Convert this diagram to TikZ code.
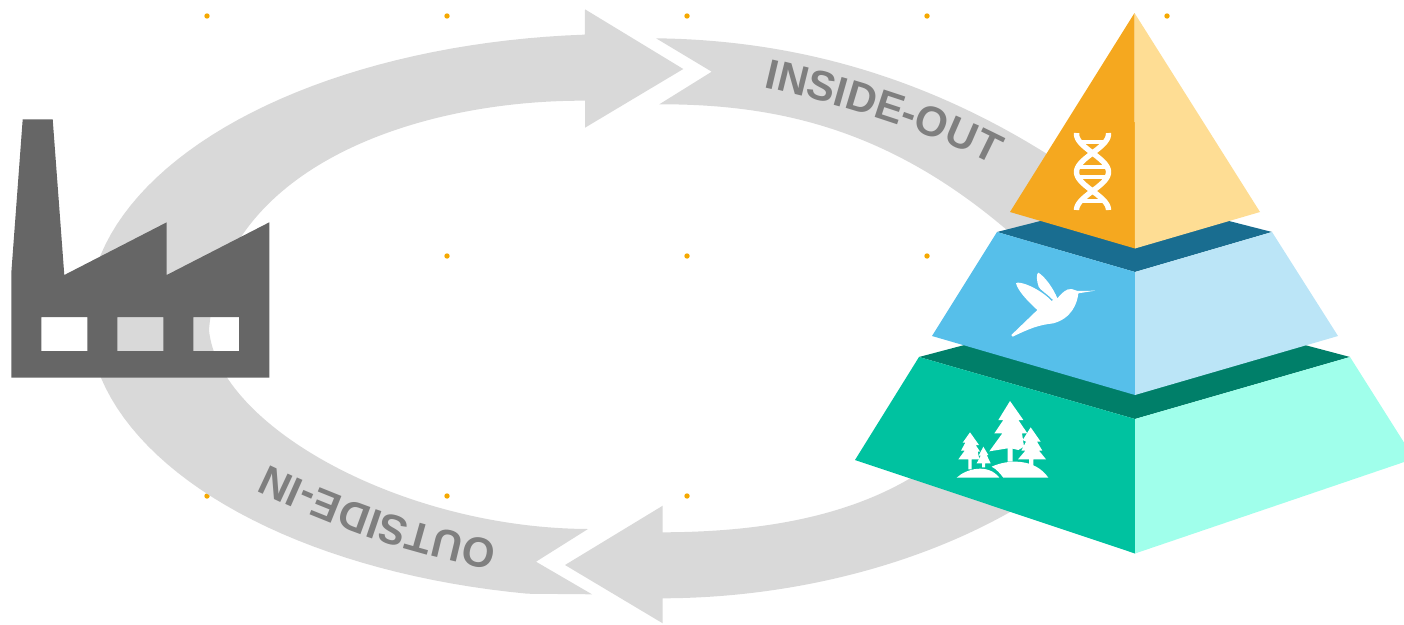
\documentclass[tikz,border=0pt]{standalone}
\usepackage{fontspec}
\setmainfont{Liberation Sans}
\usetikzlibrary{decorations.text}
\newcommand{\ringfont}{\bfseries\fontsize{42}{48}\selectfont\color{labelgray}}
\definecolor{labelgray}{HTML}{7F7F7F}
\definecolor{ringgray}{HTML}{D9D9D9}
\definecolor{factorygray}{HTML}{666666}
\definecolor{dotorange}{HTML}{F5A800}
\definecolor{topL}{HTML}{F5A81F}
\definecolor{topR}{HTML}{FEDD94}
\definecolor{midL}{HTML}{56BFEA}
\definecolor{midR}{HTML}{BBE5F7}
\definecolor{midD}{HTML}{196D90}
\definecolor{lowL}{HTML}{00C2A0}
\definecolor{lowR}{HTML}{A0FFEB}
\definecolor{lowD}{HTML}{007F69}
\tikzset{
  griddot/.style={fill=dotorange},
  ring/.style={fill=ringgray},
  iconwhite/.style={fill=white},
  ringlabel/.style={decorate},
}
\begin{document}
\begin{tikzpicture}[x=1pt,y=-1pt]
\useasboundingbox (0,0) rectangle (1404,624);
\clip (0,0) rectangle (1404,624);
% grid dots
\foreach \p in {(207,16),(447,16),(687,16),(927,16),(1167,16),(447,256),(687,256),(927,256),(207,496),(447,496),(687,496)}
  \fill[griddot] \p circle (2.7);
% ring, left part with upper arrow head
\fill[ring] (585,9.3) -- (683.3,69) -- (585,127.7) -- (585,100.7)
  .. controls (420,100) and (222,165) .. (209,330)
  .. controls (218,425) and (400,528) .. (588,529)
  -- (536,561.7) -- (592,594.3)
  -- plot[domain=100:266.2,samples=80] ({620+532*cos(\x)},{316+282*sin(\x)})
  -- cycle;
% ring, top right part
\fill[ring] (656,38.3)
  .. controls (800,40) and (950,80) .. (1100,190)
  -- (1040,260)
  .. controls (910,135) and (790,104) .. (659.3,104.3)
  -- (711.7,71.7) -- cycle;
% ring, bottom right part with lower arrow head
\fill[ring] (565,565) -- (662.7,505.7) -- (662.7,532.3)
  .. controls (780,532) and (880,510) .. (950,450)
  -- (1060,480)
  .. controls (950,560) and (800,598) .. (662.7,598.3)
  -- (662.7,623.3) -- cycle;
% ring labels
\path[ringlabel,decoration={text along path,text align=center,text={|\ringfont|INSIDE-OUT}}]
  (763.5,87) .. controls (841.5,105) and (926.5,130) .. (993.5,165);
\path[ringlabel,decoration={text along path,text align=center,text={|\ringfont|OUTSIDE-IN}}]
  (498,541) .. controls (421,528) and (341,500) .. (267,464);
% factory
\fill[factorygray,even odd rule] (22.7,119.3) -- (52.7,119.3) -- (64.3,275) -- (166.7,222.3) -- (166.7,275) -- (269.3,222.3) -- (269.3,377.7) -- (11.3,377.7) -- (11.3,273) -- cycle
  (41.3,317) rectangle (87.3,351)
  (117.3,317) rectangle (163.3,351)
  (193.3,317) rectangle (239,351);
% pyramid, lower tier
\fill[lowD] (919,357) -- (1135,300) -- (1350,357) -- (1135,419) -- cycle;
\fill[lowL] (919,357) -- (1135,419) -- (1135,553.5) -- (855,460) -- cycle;
\fill[lowR] (1135,419) -- (1350,357) -- (1410,452) -- (1410,460) -- (1135,553.5) -- cycle;
% pyramid, middle tier
\fill[midD] (997,232) -- (1135,197) -- (1272,232) -- (1135,272) -- cycle;
\fill[midL] (997,232) -- (1135,272) -- (1135,395) -- (932,336) -- cycle;
\fill[midR] (1135,272) -- (1272,232) -- (1338,336) -- (1135,395) -- cycle;
% pyramid, top tier
\fill[topL] (1134.5,13) -- (1135,248.5) -- (1010,212) -- cycle;
\fill[topR] (1134.5,13) -- (1260,212) -- (1135,248.5) -- cycle;
% DNA icon
\draw[white,line width=5.4] plot[domain=133:210,samples=50] ({1092.5+16*cos((\x-172)*360/76)},\x);
\draw[white,line width=5.4] plot[domain=133:210,samples=50] ({1092.5-16*cos((\x-172)*360/76)},\x);
\foreach \yy in {142,201}
  \draw[white,line width=4] (1082,\yy) -- (1103,\yy);
\draw[white,line width=4] (1078,167) -- (1107,167) (1078,177) -- (1107,177);
% hummingbird icon
\begin{scope}[shift={(940,260)},scale=0.33333]
\fill[iconwhite] (465,92) -- (415,100) .. controls (412,130) and (395,175) .. (340,190)
  .. controls (295,195) and (270,205) .. (218,230) -- (214,225) -- (292,150)
  .. controls (265,125) and (235,95) .. (228,70) .. controls (235,60) and (300,85) .. (335,123)
  -- (339,120) .. controls (320,100) and (300,90) .. (296,80) .. controls (290,65) and (288,40) .. (295,38)
  .. controls (315,50) and (340,85) .. (352,115) .. controls (365,100) and (378,85) .. (395,87)
  -- (413,93) -- cycle;
\end{scope}
% trees icon
\begin{scope}[shift={(940,260)},scale=0.33333]
\fill[iconwhite] (210,423) -- (250,480) -- (235,480) -- (262,520) -- (246,520) -- (252,560) -- (235,570) -- (218,566) -- (218,605) -- (203,605) -- (203,565) -- (148,574) -- (187,520) -- (163,520) -- (190,480) -- (175,480) -- cycle;
\fill[iconwhite] (272,502) -- (302,545) -- (291,545) -- (307,572) -- (297,572) -- (318,598) -- (280,598) -- (280,620) -- (267,620) -- (267,598) -- (234,598) -- (256,572) -- (244,572) -- (258,545) -- (248,540) -- cycle;
\fill[iconwhite] (90,517) -- (117,555) -- (107,555) -- (120,575) -- (113,575) -- (118,598) -- (95,598) -- (95,628) -- (85,628) -- (85,598) -- (55,598) -- (74,572) -- (63,572) -- (76,548) -- (68,548) -- cycle;
\fill[iconwhite] (130,560) -- (145,585) -- (140,585) -- (152,610) -- (135,610) -- (135,622) -- (126,622) -- (126,610) -- (110,610) -- (122,587) -- (116,587) -- cycle;
\fill[iconwhite] (50,653) .. controls (80,625) and (145,610) .. (178,653) -- cycle;
\fill[iconwhite] (190,653) .. controls (180,640) and (170,628) .. (155,620) .. controls (205,597) and (285,595) .. (325,653) -- cycle;
\end{scope}
\end{tikzpicture}
\end{document}
